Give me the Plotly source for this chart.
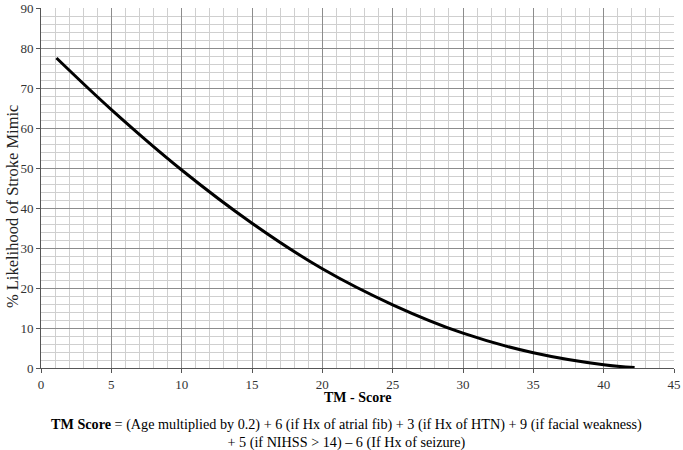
import plotly.graph_objects as go

tm_score = [1.1, 5, 10, 15, 20, 25, 30, 35, 40, 42.2]
likelihood = [77.5, 64.6, 49.5, 36.2, 24.8, 15.8, 8.7, 3.8, 0.8, 0.1]

x_ticks = [0, 5, 10, 15, 20, 25, 30, 35, 40, 45]
y_ticks = [0, 10, 20, 30, 40, 50, 60, 70, 80, 90]

FONT = "Liberation Serif, Times New Roman, serif"

fig = go.Figure()
fig.add_trace(go.Scatter(x=tm_score, y=likelihood, mode="lines",
                         line=dict(color="black", width=3, shape="spline", smoothing=1.0),
                         showlegend=False, hoverinfo="skip"))

fig.update_layout(
    width=683, height=450,
    margin=dict(l=41, r=9, t=8, b=82),
    paper_bgcolor="white", plot_bgcolor="white",
    font=dict(family=FONT, size=13, color="#222"),
    xaxis=dict(range=[0, 45], tickvals=x_ticks, showgrid=True, automargin=False,
               gridcolor="#8c8c8c", gridwidth=1,
               minor=dict(dtick=1, tick0=0, showgrid=True, gridcolor="#cfcfcf", gridwidth=1),
               showline=True, linecolor="#555", linewidth=1,
               ticks="outside", ticklen=4, tickcolor="#555",
               zeroline=False, tickfont=dict(family=FONT, size=13, color="#333")),
    yaxis=dict(range=[0, 90], tickvals=y_ticks, showgrid=True, automargin=False,
               gridcolor="#8c8c8c", gridwidth=1,
               minor=dict(dtick=2, tick0=0, showgrid=True, gridcolor="#cfcfcf", gridwidth=1),
               showline=True, linecolor="#555", linewidth=1,
               ticks="outside", ticklen=4, tickcolor="#555",
               zeroline=False, tickfont=dict(family=FONT, size=13, color="#333")),
)

fig.add_annotation(text="<b>TM - Score</b>", xref="paper", yref="paper",
                   x=0.5, y=-0.0806, xanchor="center", yanchor="middle",
                   showarrow=False, font=dict(family=FONT, size=14, color="black"))

fig.add_annotation(text="% Likelihood of Stroke Mimic", xref="paper", yref="paper",
                   x=-0.0458, y=0.447, xanchor="center", yanchor="middle", textangle=-90,
                   showarrow=False, font=dict(family=FONT, size=16.5, color="#222"))

fig.add_annotation(
    text="<b>TM Score</b> = (Age multiplied by 0.2) + 6 (if Hx of atrial fib) + 3 (if Hx of HTN) + 9 (if facial weakness)<br>+ 5 (if NIHSS > 14) – 6 (If Hx of seizure)",
    xref="paper", yref="paper", x=0.482, y=-0.1806, xanchor="center", yanchor="middle",
    showarrow=False, align="center",
    font=dict(family=FONT, size=14.2, color="black"))

fig.write_html("out.html", config={"displayModeBar": False},
               post_script="document.body.style.margin='0';")
